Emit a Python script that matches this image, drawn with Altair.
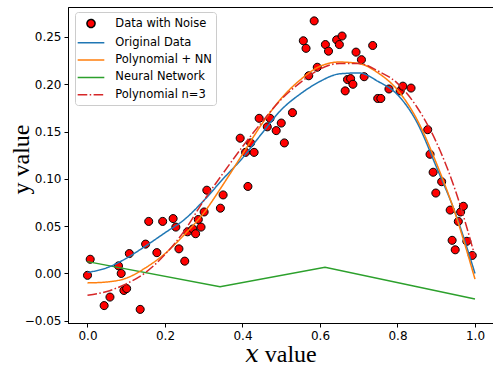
import altair as alt
import pandas as pd

noise_x = [0.000, 0.007, 0.043, 0.058, 0.080, 0.087, 0.094, 0.101, 0.108, 0.136,
           0.150, 0.158, 0.179, 0.194, 0.221, 0.228, 0.236, 0.251, 0.258, 0.272,
           0.279, 0.286, 0.293, 0.301, 0.308, 0.343, 0.350, 0.394, 0.408, 0.414,
           0.421, 0.430, 0.443, 0.464, 0.471, 0.487, 0.500, 0.508, 0.529, 0.557,
           0.564, 0.571, 0.585, 0.593, 0.614, 0.622, 0.643, 0.650, 0.657, 0.665,
           0.671, 0.679, 0.685, 0.693, 0.707, 0.714, 0.736, 0.749, 0.757, 0.778,
           0.807, 0.814, 0.835, 0.878, 0.884, 0.892, 0.914, 0.899, 0.936, 0.963,
           0.970, 0.957, 0.941, 0.949, 0.979, 0.993]
noise_y = [-0.002, 0.015, -0.034, -0.025, 0.008, 0.000, -0.018, -0.016, 0.021, -0.038,
           0.031, 0.055, 0.022, 0.055, 0.058, 0.049, 0.026, 0.013, 0.044, 0.047,
           0.042, 0.057, 0.049, 0.065, 0.088, 0.069, 0.083, 0.143, 0.128, 0.092,
           0.138, 0.128, 0.164, 0.155, 0.164, 0.151, 0.159, 0.138, 0.170, 0.246,
           0.238, 0.209, 0.267, 0.218, 0.242, 0.235, 0.247, 0.242, 0.251, 0.193,
           0.205, 0.206, 0.200, 0.234, 0.226, 0.208, 0.241, 0.185, 0.185, 0.195,
           0.193, 0.198, 0.196, 0.152, 0.126, 0.107, 0.097, 0.085, 0.067, 0.065,
           0.071, 0.055, 0.035, 0.025, 0.034, 0.019]

# ---- fitted / reference curves ----
curve_x = [0.00, 0.05, 0.10, 0.15, 0.20, 0.25, 0.30, 0.35, 0.40, 0.45, 0.50,
           0.55, 0.60, 0.65, 0.70, 0.75, 0.80, 0.85, 0.90, 0.95, 1.00]
original_y = [0.001, 0.006, 0.016, 0.029, 0.043, 0.057, 0.077, 0.100, 0.122, 0.148, 0.173,
              0.190, 0.203, 0.211, 0.212, 0.203, 0.189, 0.160, 0.113, 0.063, 0.000]
poly_nn_y = [-0.010, -0.009, -0.005, 0.006, 0.021, 0.041, 0.064, 0.094, 0.126, 0.158, 0.185,
             0.205, 0.219, 0.2235, 0.222, 0.212, 0.194, 0.163, 0.117, 0.062, -0.006]
poly3_y = [-0.023, -0.019, -0.011, 0.001, 0.020, 0.045, 0.077, 0.106, 0.134, 0.160, 0.184,
           0.202, 0.216, 0.222, 0.222, 0.214, 0.201, 0.176, 0.139, 0.087, 0.018]
nn_x = [0.000, 0.342, 0.613, 1.000]
nn_y = [0.0125, -0.014, 0.0066, -0.027]

names = ["Data with Noise", "Original Data", "Polynomial + NN", "Neural Network", "Polynomial n=3"]
fill_colors = ["#ff0000", "#1f77b4", "#ff7f0e", "#2ca02c", "#d62728"]
stroke_colors = ["#000000", "#1f77b4", "#ff7f0e", "#2ca02c", "#d62728"]

x_ticks = [0.0, 0.2, 0.4, 0.6, 0.8, 1.0]
y_ticks = [-0.05, 0.0, 0.05, 0.10, 0.15, 0.20, 0.25]

# ---- tables ----
pts = pd.DataFrame({"x": noise_x, "y": noise_y, "series": names[0]})
rows = []
for name, ys in [(names[1], original_y), (names[2], poly_nn_y), (names[4], poly3_y)]:
    rows += [{"x": a, "y": b, "series": name} for a, b in zip(curve_x, ys)]
smooth = pd.DataFrame(rows)
nn = pd.DataFrame({"x": nn_x, "y": nn_y, "series": names[3]})

circle = "M-0.62,0A0.62,0.62,0,1,1,0.62,0A0.62,0.62,0,1,1,-0.62,0Z"
solid = "M-2.05,0H2.05"
dashdot = "M-2.05,0H-0.57M-0.2,0H0.03M0.4,0H2.05"

xscale = alt.Scale(domain=[-0.0503, 1.0465], nice=False, zero=False)
yscale = alt.Scale(domain=[-0.0524, 0.2817], nice=False, zero=False)
stroke_scale = alt.Scale(domain=names, range=stroke_colors)
fill_scale = alt.Scale(domain=names, range=fill_colors)
shape_scale = alt.Scale(domain=names, range=[circle, solid, solid, solid, dashdot])
dash_scale = alt.Scale(domain=names, range=[[1, 0], [1, 0], [1, 0], [1, 0], [9.6, 2.4, 1.5, 2.4]])

xaxis = alt.Axis(values=x_ticks, format=".1f", title="𝑥 value", grid=False,
                 tickSize=4, labelPadding=3, titlePadding=1)
yaxis = alt.Axis(values=y_ticks, format=".2f", title="y value", grid=False,
                 tickSize=4, labelPadding=3, titleX=-40, titleY=152,
                 titleBaseline="alphabetic", titleAngle=270)

legend = alt.Legend(title=None, orient="none", legendX=7, legendY=5,
                    symbolSize=169, symbolStrokeWidth=1.5, symbolOffset=4.5,
                    labelFont="DejaVu Sans", labelFontSize=11.5, labelColor="black",
                    labelOffset=16.8, padding=4, rowPadding=4.3,
                    fillColor="white", strokeColor="#cccccc", cornerRadius=3)

points = alt.Chart(pts).mark_point(filled=True, size=169, opacity=1, strokeWidth=1).encode(
    x=alt.X("x:Q", scale=xscale, axis=xaxis),
    y=alt.Y("y:Q", scale=yscale, axis=yaxis),
    fill=alt.Fill("series:N", scale=fill_scale, legend=legend),
    stroke=alt.Stroke("series:N", scale=stroke_scale, legend=legend),
    shape=alt.Shape("series:N", scale=shape_scale, legend=legend),
)

curves = alt.Chart(smooth).mark_line(strokeWidth=1.5, interpolate="monotone").encode(
    x=alt.X("x:Q", scale=xscale, axis=xaxis),
    y=alt.Y("y:Q", scale=yscale, axis=yaxis),
    stroke=alt.Stroke("series:N", scale=stroke_scale, legend=None),
    strokeDash=alt.StrokeDash("series:N", scale=dash_scale, legend=None),
    detail="series:N",
)

nn_line = alt.Chart(nn).mark_line(strokeWidth=1.5).encode(
    x=alt.X("x:Q", scale=xscale, axis=xaxis),
    y=alt.Y("y:Q", scale=yscale, axis=yaxis),
    stroke=alt.Stroke("series:N", scale=stroke_scale, legend=None),
)

chart = alt.layer(points, nn_line, curves).properties(
    width=425, height=316,
    autosize=alt.AutoSizeParams(type="none"),
    padding={"left": 68, "top": 7, "right": 0, "bottom": 45},
    background="white",
).configure_view(
    stroke="black", strokeWidth=1
).configure_axis(
    labelFont="DejaVu Sans", labelFontSize=12, labelColor="black",
    domainColor="black", tickColor="black", domainWidth=1, tickWidth=1,
    titleFont="Liberation Serif, DejaVu Serif", titleFontSize=24, titleFontWeight="normal",
    titleColor="black",
)

chart.save("out.html", embed_options={"renderer": "svg", "actions": False})
